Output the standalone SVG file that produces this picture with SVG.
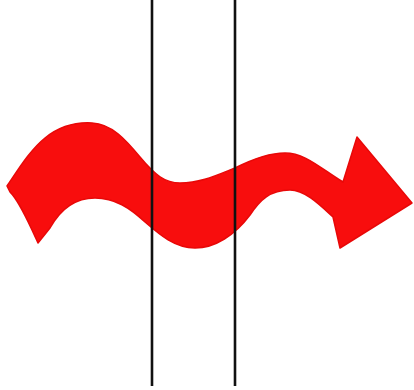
<svg xmlns="http://www.w3.org/2000/svg" width="414" height="390" viewBox="0 0 414 390">
<style>
.arrow{fill:#f80d0d;stroke:#e80808;stroke-width:1.5;stroke-linejoin:round}
.line{stroke:#111;stroke-width:2.6}
</style>
<rect width="414" height="390" fill="#fff"/>
<g id="arrow">
<path class="arrow" d="M7,186 C18,170 30,150 45,138 C60,126 75,122 92,123 C112,124 126,140 140,157 C155,175 165,183 180,183 C200,183 215,176 235,168 C255,158 270,153 285,153 C305,153 320,168 343,182 L357,137 L412,203 L340,248 L333,217 C320,205 305,190 290,190 C270,190 260,200 250,215 C235,235 215,248 195,248 C175,248 160,235 145,222 C130,208 115,198 95,198 C75,198 60,210 50,228 L38,243 L32,230 C25,215 18,200 10,192 Z"/>
</g>
<g id="lines">
<line class="line" x1="152" y1="0" x2="152" y2="386"/>
<line class="line" x1="235" y1="0" x2="235" y2="386"/>
</g>
</svg>
